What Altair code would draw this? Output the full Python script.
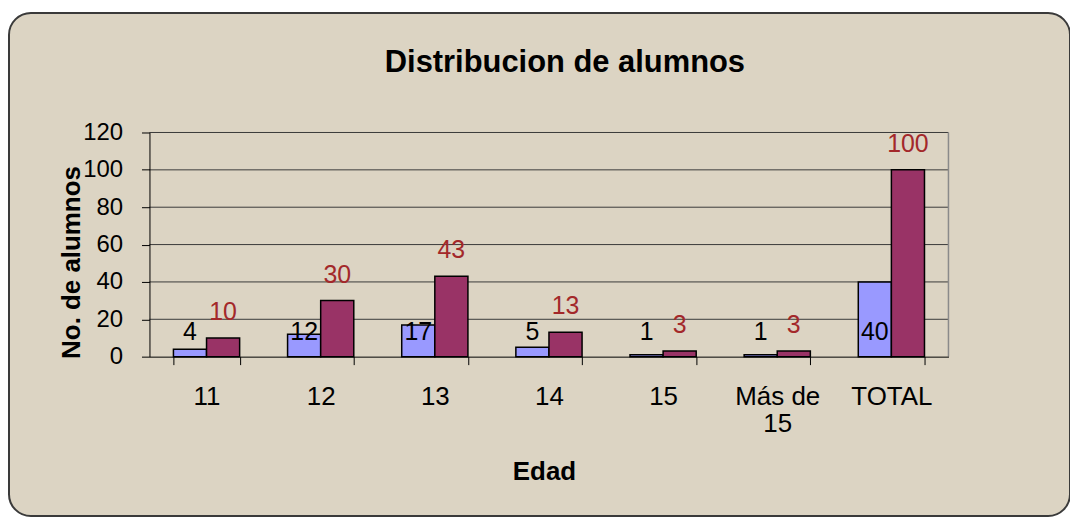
import altair as alt
import pandas as pd

categorias = ["11", "12", "13", "14", "15", "Más de 15", "TOTAL"]
alumnos = [4, 12, 17, 5, 1, 1, 40]
porcentaje = [10, 30, 43, 13, 3, 3, 100]
series = ["Alumnos", "Porcentaje"]
ticks_y = [0, 20, 40, 60, 80, 100, 120]
grid_y = [20, 40, 60, 80, 100, 120]

rows = []
for c, a, p in zip(categorias, alumnos, porcentaje):
    rows.append({"Edad": c, "Serie": "Alumnos", "Valor": a})
    rows.append({"Edad": c, "Serie": "Porcentaje", "Valor": p})
df = pd.DataFrame(rows)
df_a = df[df["Serie"] == "Alumnos"]
df_p = df[df["Serie"] == "Porcentaje"]
df_grid = pd.DataFrame({"Valor": grid_y})

FONT = "Liberation Sans"
W, H = 802, 225

x_axis = alt.Axis(
    title="Edad", titleFontSize=26, titleFontWeight="bold", titleFont=FONT,
    titleColor="black", titleX=396, titleY=123, titleBaseline="alphabetic",
    labelFont=FONT, labelFontSize=26, labelColor="black", labelAngle=0,
    labelPadding=19, labelLineHeight=27,
    labelExpr="datum.label == 'Más de 15' ? ['Más de', '15'] : datum.label",
    tickBand="extent", tickSize=8, tickColor="black", tickWidth=1,
    domainColor="black", domainWidth=1, grid=False, zindex=1,
)
y_axis = alt.Axis(
    title="No. de alumnos", titleFontSize=26, titleFontWeight="bold", titleFont=FONT,
    titleColor="black", titleAngle=-90, titleX=-78, titleY=130,
    titleAlign="center", titleBaseline="middle",
    values=ticks_y, labelFont=FONT, labelFontSize=24, labelColor="black",
    labelPadding=19, tickSize=8, tickColor="black", tickWidth=1,
    domainColor="black", domainWidth=1, grid=False, zindex=1,
)
x_scale = alt.Scale(paddingInner=0.42, paddingOuter=0.21)
y_scale = alt.Scale(domain=[0, 120], nice=False)
off_scale = alt.Scale(domain=series, paddingInner=0, paddingOuter=0)

x_enc = alt.X("Edad:N", sort=categorias, scale=x_scale, axis=x_axis)
y_enc = alt.Y("Valor:Q", scale=y_scale, axis=y_axis)
off_enc = alt.XOffset("Serie:N", sort=series, scale=off_scale)

panel = alt.Chart(pd.DataFrame({"k": [0]})).mark_rect(
    fill="#dcd4c3", stroke="#3a3a3a", strokeWidth=2, cornerRadius=22
).encode(
    x=alt.value(-141), x2=alt.value(924), y=alt.value(-120), y2=alt.value(385)
)

grid = alt.Chart(df_grid).mark_rule(color="#3a3a3a", strokeWidth=1).encode(
    y=y_enc, x=alt.value(0), x2=alt.value(W)
)

frame_right = alt.Chart(pd.DataFrame({"k": [0]})).mark_rule(
    color="#8a8a8a", strokeWidth=1.5
).encode(x=alt.value(W), y=alt.value(0), y2=alt.value(H))

bars = alt.Chart(df).mark_bar(stroke="black", strokeWidth=1.5).encode(
    x=x_enc, xOffset=off_enc, y=y_enc,
    color=alt.Color("Serie:N", sort=series,
                    scale=alt.Scale(domain=series, range=["#9999ff", "#993366"]),
                    legend=None),
)

text_a = alt.Chart(df_a).mark_text(
    font=FONT, fontSize=25, color="black", baseline="alphabetic", align="center"
).encode(
    x=x_enc, xOffset=off_enc,
    y=alt.YDatum(9, type="quantitative", scale=y_scale, axis=y_axis),
    text="Valor:Q",
)

text_p = alt.Chart(df_p).mark_text(
    font=FONT, fontSize=25, color="#a3282a", baseline="alphabetic", align="center", dy=-18
).encode(
    x=x_enc, xOffset=off_enc, y=y_enc, text="Valor:Q",
)

chart = alt.layer(panel, grid, frame_right, bars, text_a, text_p).properties(
    width=W, height=H,
    title=alt.TitleParams("Distribucion de alumnos", font=FONT, fontSize=31,
                          fontWeight="bold", color="black", anchor="middle",
                          frame="group", offset=-91, baseline="alphabetic", dx=16),
    autosize=alt.AutoSizeParams(type="none"),
    padding={"left": 142, "top": 124, "right": 122, "bottom": 161},
    background="white",
).configure_view(stroke=None)

chart.save("out.html", embed_options={"renderer": "svg", "actions": False})
